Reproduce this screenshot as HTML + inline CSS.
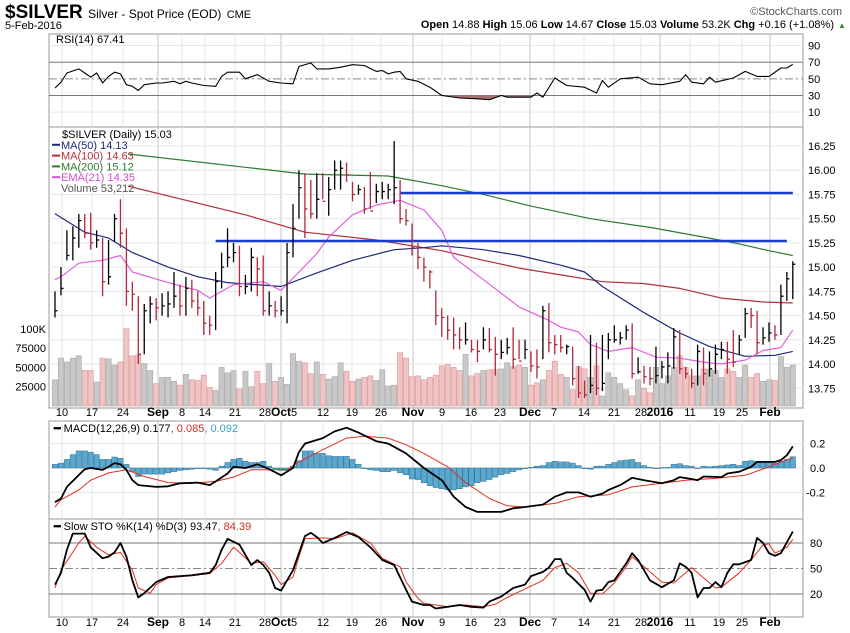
<!DOCTYPE html>
<html><head><meta charset="utf-8"><style>
body{margin:0;background:#fff;}
svg{display:block;font-family:"Liberation Sans",sans-serif;}
.n{font-family:"Liberation Sans Narrow","Liberation Sans",sans-serif;}
</style></head><body>
<svg id="chart" width="850" height="633" viewBox="0 0 850 633" xmlns="http://www.w3.org/2000/svg">
<rect x="0" y="0" width="850" height="633" fill="#fff"/>
<text x="5" y="18" class="n" font-size="19" font-weight="bold">$SILVER <tspan font-size="12" font-weight="normal">Silver - Spot Price (EOD)</tspan> <tspan font-size="11" font-weight="normal">CME</tspan></text>
<text x="5" y="29" class="n" font-size="11">5-Feb-2016</text>
<text x="842" y="15" class="n" font-size="11" fill="#555" text-anchor="end">©StockCharts.com</text>
<text x="834" y="28" class="n" font-size="11" text-anchor="end"><tspan font-weight="bold">Open</tspan> 14.88 <tspan font-weight="bold">High</tspan> 15.06 <tspan font-weight="bold">Low</tspan> 14.67 <tspan font-weight="bold">Close</tspan> 15.03 <tspan font-weight="bold">Volume</tspan> 53.2K <tspan font-weight="bold">Chg</tspan> +0.16 (+1.08%)</text>
<text x="838" y="28" font-size="8" fill="#2a8a2a">▲</text>
<g id="g"></g>
</svg>
<script>
// ---------- data ----------
const highs=[14.75,15.0,15.38,15.42,15.55,15.55,15.56,15.38,15.3,15.28,15.55,15.7,15.4,14.85,14.7,14.62,14.7,14.68,14.73,14.75,14.95,14.82,14.9,14.87,14.75,14.65,14.5,14.95,15.15,15.4,15.25,15.22,14.92,15.2,15.1,15.12,14.75,14.65,14.7,15.25,15.65,16.0,15.97,15.9,15.97,15.97,15.93,16.1,16.1,16.08,15.88,15.85,15.83,15.98,15.86,15.88,15.86,16.3,15.9,15.6,15.45,15.25,15.1,14.97,14.76,14.58,14.5,14.48,14.38,14.43,14.25,14.25,14.38,14.37,14.28,14.25,14.27,14.38,14.25,14.25,14.13,14.15,14.6,14.63,14.3,14.3,14.2,14.18,13.98,13.83,14.3,14.22,14.3,14.32,14.4,14.33,14.4,14.42,14.07,13.98,13.97,14.18,14.03,14.12,14.37,14.35,13.97,13.95,14.2,14.17,14.13,14.2,14.23,14.23,14.35,14.3,14.58,14.58,14.55,14.38,14.43,14.4,14.82,14.95,15.06];
const lows=[14.48,14.71,15.07,15.07,15.2,15.3,15.18,15.2,14.7,14.82,15.26,15.2,14.6,14.55,14.0,14.1,14.42,14.45,14.5,14.48,14.58,14.5,14.5,14.58,14.5,14.3,14.3,14.35,14.78,15.0,15.05,14.7,14.72,14.75,14.7,14.5,14.5,14.48,14.5,14.42,15.1,15.5,15.3,15.5,15.5,15.7,15.53,15.8,15.8,15.88,15.68,15.75,15.55,15.6,15.66,15.7,15.7,15.65,15.45,15.43,15.12,14.98,14.85,14.78,14.4,14.28,14.25,14.15,14.15,14.2,14.12,14.02,14.15,14.12,13.88,14.05,14.1,13.95,14.05,14.05,13.92,13.85,14.05,14.12,14.1,14.12,14.1,13.78,13.65,13.65,13.7,13.68,13.72,14.05,14.22,14.2,14.25,13.85,13.9,13.8,13.78,13.8,13.85,13.8,13.95,13.9,13.85,13.75,13.78,13.78,13.87,13.9,14.05,13.9,13.97,14.1,14.27,14.37,14.1,14.2,14.23,14.25,14.3,14.65,14.67];
const closes=[14.55,14.78,15.12,15.3,15.48,15.35,15.25,15.28,14.85,14.9,15.5,15.35,14.75,14.72,14.1,14.55,14.62,14.58,14.6,14.62,14.7,14.6,14.78,14.65,14.58,14.42,14.4,14.85,15.0,15.1,15.15,14.8,14.8,15.1,14.98,14.55,14.6,14.55,14.55,15.15,15.4,15.82,15.6,15.55,15.7,15.68,15.8,16.0,16.02,15.95,15.75,15.8,15.6,15.58,15.78,15.78,15.8,15.82,15.5,15.48,15.2,15.1,15.0,14.95,14.5,14.48,14.35,14.3,14.25,14.25,14.15,14.13,14.25,14.15,14.1,14.12,14.17,14.05,14.03,14.15,13.98,13.97,14.55,14.22,14.2,14.17,14.18,13.85,13.7,13.68,13.78,13.75,13.8,14.25,14.25,14.27,14.35,13.9,13.92,13.87,13.85,13.88,13.97,13.98,14.28,13.95,13.9,13.8,14.13,13.9,13.95,14.1,14.15,14.05,14.02,14.25,14.52,14.5,14.22,14.27,14.32,14.3,14.7,14.88,15.03];
const volumesK=[34,62,57,62,65,46,46,31,62,61,53,57,100,65,66,55,46,29,37,37,32,27,41,34,33,40,24,20,50,43,46,22,45,25,45,29,55,32,37,28,68,58,56,42,57,41,35,38,56,45,32,35,37,39,33,47,26,27,69,62,38,39,34,37,40,52,54,50,46,67,39,42,46,47,47,48,56,51,53,50,27,30,34,46,58,41,37,21,51,48,37,52,13,43,37,29,21,13,34,23,17,50,29,39,50,65,50,39,39,48,48,46,37,48,45,37,53,37,42,32,34,33,64,50,53];
const ma50Idx=[0,5,9,13,19,24,29,38,44,50,57,62,65,72,78,85,89,92,99,105,110,116,121,124];
const ma50Val=[15.55,15.36,15.3,15.15,15.0,14.9,14.84,14.8,14.94,15.07,15.18,15.2,15.22,15.18,15.12,15.02,14.95,14.8,14.53,14.32,14.18,14.08,14.09,14.13];
const ma100Idx=[0,12,32,42,54,65,72,78,85,92,99,105,112,119,124];
const ma100Val=[15.95,15.84,15.54,15.36,15.28,15.17,15.07,14.99,14.92,14.85,14.83,14.78,14.68,14.64,14.63];
const ma200Idx=[0,12,32,42,56,65,72,80,90,100,110,115,120,124];
const ma200Val=[16.24,16.17,16.03,15.96,15.94,15.84,15.75,15.63,15.5,15.41,15.3,15.24,15.17,15.12];
const emaIdx=[0,1,4,8,11,13,19,24,26,30,35,38,41,44,46,50,54,58,62,65,67,72,78,83,85,88,90,93,97,101,105,109,112,116,119,122,124];
const emaVal=[14.87,14.9,15.04,15.07,15.12,14.95,14.84,14.76,14.68,14.82,14.85,14.76,14.95,15.14,15.31,15.54,15.64,15.69,15.59,15.38,15.1,14.87,14.59,14.45,14.38,14.33,14.2,14.13,14.17,14.07,14.06,14.02,14.0,14.04,14.14,14.17,14.35];
const resistanceLevels=[15.27,15.765];
const resistanceStart=[27,58];
const resistanceEnd=[123,124];
const rsiIdx=[0,1,2,4,5,6,7,8,9,10,11,12,13,14,15,17,18,20,21,22,23,25,27,28,29,31,32,34,36,38,40,41,43,44,46,48,50,52,54,55,56,57,58,59,61,63,65,68,71,73,75,76,78,80,81,82,84,86,89,91,92,93,95,98,100,102,105,106,107,109,110,111,114,116,118,120,122,123,124];
const rsiVal=[39,46,57,62,57,52,57,45,53,58,56,43,41,36,43,45,45,47,44,47,45,42,41,53,58,58,50,55,47,45,44,65,69,62,62,64,67,66,59,60,56,58,59,50,47,40,30,27,26,25,30,28,28,28,33,28,51,42,40,33,48,40,50,52,44,43,47,55,46,44,52,46,51,59,53,53,63,63,67.41];
const macdIdx=[0,1,2,4,5,6,8,9,10,11,12,13,14,17,19,21,24,26,27,29,30,32,34,36,38,40,41,42,45,47,49,51,54,56,59,62,65,67,69,71,75,77,79,82,84,86,88,90,92,93,95,97,99,102,104,105,107,108,109,112,113,115,117,118,121,122,123,124];
const macdVal=[-0.28,-0.25,-0.155,-0.057,-0.01,0,-0.015,0.01,0.04,0.03,-0.015,-0.1,-0.14,-0.155,-0.15,-0.125,-0.12,-0.14,-0.11,-0.045,0.01,0,0.03,-0.01,-0.06,0,0.13,0.2,0.245,0.3,0.33,0.29,0.22,0.2,0.12,0,-0.1,-0.235,-0.32,-0.36,-0.36,-0.33,-0.32,-0.3,-0.235,-0.2,-0.2,-0.235,-0.21,-0.18,-0.14,-0.08,-0.1,-0.125,-0.1,-0.075,-0.09,-0.1,-0.07,-0.075,-0.045,-0.03,0.01,0.05,0.05,0.065,0.105,0.177];
const signalIdx=[0,1,4,6,9,12,15,19,23,27,30,33,37,39,41,45,49,52,56,59,62,66,69,73,76,79,84,88,93,97,102,106,111,116,120,124];
const signalVal=[-0.32,-0.26,-0.18,-0.1,-0.04,-0.015,-0.07,-0.12,-0.125,-0.11,-0.075,-0.015,-0.015,-0.015,0.05,0.15,0.245,0.26,0.245,0.19,0.12,0.01,-0.12,-0.25,-0.31,-0.32,-0.29,-0.235,-0.22,-0.155,-0.125,-0.1,-0.085,-0.06,0.01,0.085];
const histVal=[0.03,0.04,0.07,0.11,0.14,0.14,0.13,0.11,0.07,0.07,0.09,0.08,0.03,-0.03,-0.07,-0.05,-0.05,-0.05,-0.05,-0.04,-0.03,-0.02,-0.015,-0.01,-0.005,0,-0.01,-0.02,0.015,0.045,0.07,0.08,0.055,0.045,0.045,0.055,0.015,-0.005,-0.02,-0.02,0.015,0.06,0.14,0.14,0.12,0.12,0.1,0.095,0.095,0.095,0.07,0.03,0,-0.015,-0.02,-0.03,-0.03,-0.02,-0.04,-0.055,-0.09,-0.095,-0.12,-0.145,-0.16,-0.17,-0.18,-0.18,-0.17,-0.155,-0.145,-0.12,-0.11,-0.095,-0.075,-0.055,-0.045,-0.03,-0.015,-0.005,0.005,0.015,0.02,0.045,0.055,0.05,0.05,0.04,0.02,0,-0.01,0.015,0.015,0.03,0.045,0.06,0.065,0.07,0.045,0.02,0.005,0,0.003,0.005,0.03,0.035,0.02,0.015,0,0.015,0.01,0.015,0.02,0.025,0.03,0.02,0.055,0.06,0.055,0.055,0.045,0.04,0.055,0.07,0.092];
const stoKIdx=[0,1,2,3,5,6,8,9,10,11,12,13,14,15,17,19,21,23,26,27,28,29,31,33,34,35,36,37,38,40,42,43,44,45,47,49,51,53,55,57,59,60,62,63,64,66,67,68,70,72,73,75,77,79,80,82,83,84,85,86,87,89,90,91,92,93,94,96,97,98,100,102,104,105,106,107,108,109,110,111,112,113,114,115,117,118,119,120,121,122,124];
const stoKVal=[31,45,72,91,91,75,62,64,69,80,64,36,16,21,34,40,41,42,45,54,72,85,78,54,60,54,45,27,24,48,88,92,87,80,86,93,87,75,60,54,25,11,7,7,3,5,6,7,5,4,11,17,27,31,41,46,51,61,61,45,39,25,11,24,25,34,36,56,68,60,36,28,36,56,52,45,16,27,27,34,28,45,55,55,60,86,80,68,65,68,93.47];
const stoDIdx=[0,1,4,5,7,9,11,13,14,16,17,19,22,26,28,30,31,33,35,37,38,40,41,42,45,47,50,53,55,58,59,61,62,64,66,69,72,74,76,79,82,84,86,88,90,92,94,96,97,99,102,104,107,109,111,112,115,117,119,120,121,123,124];
const stoDVal=[27,48,80,88,75,66,69,48,27,21,31,39,41,44,56,75,69,56,58,42,31,40,64,85,86,85,92,80,62,52,34,15,9,7,5,7,5,8,16,26,36,51,56,45,21,20,33,52,64,52,34,33,51,39,27,28,45,60,78,79,68,75,84.39];
const dateLabels=["10","17","24","Sep","8","14","21","28","Oct","5","12","19","26","Nov","9","16","23","Dec","7","14","21","28","2016","11","19","25","Feb"];
const dateLabelX=[62,92,123,158,182,205,235,265,281,294,323,352,381,413,442,471,500,530,554,584,614,641,660,690,719,742,770];
const priceTicks=[16.25,16.0,15.75,15.5,15.25,15.0,14.75,14.5,14.25,14.0,13.75];
const volTicks=[100,75,50,25];
const volTickLabels=["100K","75000","50000","25000"];
const rsiTicks=[90,70,50,30,10];
const macdTicks=[0.2,0.0,-0.2];
const macdTickLabels=["0.2","0.0","-0.2"];
const stoTicks=[80,50,20];

// ---------- scales ----------
const L=49,R=803;
const xB=i=>55+i*5.95;
const yP=p=>146+(16.25-p)*96.9;
const yV=v=>406-v*0.772;
const yR=v=>120.5-v*0.833;
const yM=v=>468-v*122;
const yS=v=>611-v*0.85;
const NS="http://www.w3.org/2000/svg";
const G=document.getElementById("g");
function mk(tag,attrs,parent){const e=document.createElementNS(NS,tag);for(const k in attrs)e.setAttribute(k,attrs[k]);(parent||G).appendChild(e);return e;}
function poly(idx,val,sc,color,w){let d="";for(let k=0;k<idx.length;k++){d+=(k?"L":"M")+xB(idx[k]).toFixed(1)+","+sc(val[k]).toFixed(1);}return mk("path",{d:d,fill:"none",stroke:color,"stroke-width":w,"stroke-linejoin":"round"});}
const monthSet=new Set(["Sep","Oct","Nov","Dec","2016","Feb"]);

// panels
const panels=[[34,127,"rsi-panel"],[127,408,"price-panel"],[421,519,"macd-panel"],[519,617,"sto-panel"]];
panels.forEach(p=>{
 const r=mk("rect",{x:L,y:p[0],width:R-L,height:p[1]-p[0],fill:"#fff",stroke:"#999","stroke-width":1});
 
 
 for(let k=0;k<dateLabelX.length;k++){
  if(dateLabels[k]==="5")continue;
  const gl=mk("line",{x1:dateLabelX[k],x2:dateLabelX[k],y1:p[0],y2:p[1],stroke:monthSet.has(dateLabels[k])?"#c4c4c4":"#e6e6e6","stroke-width":1});
  
  
 }
});
// x axis labels
[416,626].forEach(yy=>{
 for(let k=0;k<dateLabels.length;k++){
  const t=mk("text",{x:dateLabelX[k],y:yy,"font-size":monthSet.has(dateLabels[k])?12:11,"font-weight":monthSet.has(dateLabels[k])?"bold":"normal","text-anchor":"middle"});
  t.textContent=dateLabels[k];
  
  
 }
});

// RSI panel
rsiTicks.forEach(v=>{
 const ln=mk("line",{x1:L,x2:R,y1:yR(v),y2:yR(v),stroke:(v===70||v===30)?"#777":(v===50?"#888":"#e6e6e6"),"stroke-width":1,"stroke-dasharray":v===50?"8,3,2,3":"none"});
 
 
 const t=mk("text",{x:808,y:yR(v)+4,"font-size":11});
 t.textContent=String(v);
 
 
});
const cp=mk("clipPath",{id:"below30"});
mk("rect",{x:L,y:yR(30),width:R-L,height:40},cp);
let dA="M"+xB(rsiIdx[0])+","+yR(30);
for(let k=0;k<rsiIdx.length;k++)dA+="L"+xB(rsiIdx[k]).toFixed(1)+","+yR(rsiVal[k]).toFixed(1);
dA+="L"+xB(rsiIdx[rsiIdx.length-1])+","+yR(30)+"Z";
const rf=mk("path",{d:dA,fill:"#a87070","clip-path":"url(#below30)"});


const rl=poly(rsiIdx,rsiVal,yR,"#000",1.1);


const rt=mk("text",{x:56,y:43,"font-size":11});
rt.textContent="RSI(14) 67.41";



// price panel gridlines
priceTicks.forEach(p=>{
 const ln=mk("line",{x1:L,x2:R,y1:yP(p),y2:yP(p),stroke:"#e6e6e6","stroke-width":1});
 
 
 const t=mk("text",{x:808,y:yP(p)+4,"font-size":11});
 t.textContent=p.toFixed(2);
 
 
});
volTicks.forEach((v,k)=>{
 const t=mk("text",{x:46,y:yV(v)+4,"font-size":11,"text-anchor":"end"});
 t.textContent=volTickLabels[k];
 
 
});
// volume
for(let i=0;i<volumesK.length;i++){
 const down=i>0&&closes[i]<closes[i-1];
 const b=mk("rect",{x:xB(i)-2.6,y:yV(volumesK[i]),width:5.2,height:406-yV(volumesK[i]),fill:down?"#f0c4c4":"#c8c8c8",stroke:down?"#d89898":"#a8a8a8","stroke-width":0.6});
 
 
}
// MAs
const l200=poly(ma200Idx,ma200Val,yP,"#2e7a2e",1.2);


const l100=poly(ma100Idx,ma100Val,yP,"#b0303c",1.2);


const l50=poly(ma50Idx,ma50Val,yP,"#1e2a7a",1.2);


const lema=poly(emaIdx,emaVal,yP,"#e060e0",1.2);


// resistance lines
for(let k=0;k<resistanceLevels.length;k++){
 const ln=mk("line",{x1:xB(resistanceStart[k]),x2:xB(resistanceEnd[k]),y1:yP(resistanceLevels[k]),y2:yP(resistanceLevels[k]),stroke:"#1a3dcc","stroke-width":2.5});
 
 
}
// price bars
for(let i=0;i<closes.length;i++){
 const down=i>0&&closes[i]<closes[i-1];
 const c=down?"#b0283c":"#000";
 const x=xB(i);
 const b=mk("path",{d:"M"+x+","+yP(highs[i])+"L"+x+","+yP(lows[i])+"M"+x+","+yP(closes[i])+"L"+(x+2.6)+","+yP(closes[i]),stroke:c,"stroke-width":1.3,fill:"none"});
 
 
}
// legend
const lb=mk("rect",{x:50,y:128,width:78,height:64,fill:"#fff"});


const legTexts=["$SILVER (Daily) 15.03","MA(50) 14.13","MA(100) 14.63","MA(200) 15.12","EMA(21) 14.35","Volume 53,212"];
const legColors=["#000","#1e2a7a","#b0303c","#2e7a2e","#d050d0","#555"];
for(let k=0;k<legTexts.length;k++){
 const yy=138+k*10.8;
 if(k>0&&k<5){const m=mk("line",{x1:52,x2:60,y1:yy-4,y2:yy-4,stroke:legColors[k],"stroke-width":2});
  
  }
 const t=mk("text",{x:k===0?62:61,y:yy,"font-size":11,fill:legColors[k]});
 t.textContent=legTexts[k];
 
 
}

// MACD panel
macdTicks.forEach((v,k)=>{
 const ln=mk("line",{x1:L,x2:R,y1:yM(v),y2:yM(v),stroke:"#e6e6e6","stroke-width":1});
 
 
 const t=mk("text",{x:k===2?806:810,y:yM(v)+4,"font-size":11});
 t.textContent=macdTickLabels[k];
 
 
});
for(let i=0;i<histVal.length;i++){
 const v=histVal[i];
 const y1=Math.min(yM(v),yM(0)),h=Math.max(Math.abs(yM(v)-yM(0)),0.6);
 const b=mk("rect",{x:xB(i)-2.7,y:y1,width:5.4,height:h,fill:"#5aa8d0",stroke:"#2f6f90","stroke-width":0.5});
 
 
}
const sg=poly(signalIdx,signalVal,yM,"#e03020",1);


const mc=poly(macdIdx,macdVal,yM,"#000",1.8);


const ml=mk("text",{x:54,y:432,"font-size":11});
ml.innerHTML='<tspan font-weight="bold">━</tspan> MACD(12,26,9) 0.177<tspan fill="#d03020">, 0.085</tspan><tspan fill="#3aa0c8">, 0.092</tspan>';



// STO panel
stoTicks.forEach(v=>{
 const ln=mk("line",{x1:L,x2:R,y1:yS(v),y2:yS(v),stroke:v===50?"#888":"#777","stroke-width":1,"stroke-dasharray":v===50?"8,3,2,3":"none"});
 
 
 const t=mk("text",{x:810,y:yS(v)+4,"font-size":11});
 t.textContent=String(v);
 
 
});
const sd=poly(stoDIdx,stoDVal,yS,"#e03020",1);


const sk=poly(stoKIdx,stoKVal,yS,"#000",1.8);


const sl=mk("text",{x:54,y:530,"font-size":11});
sl.innerHTML='<tspan font-weight="bold">━</tspan> Slow STO %K(14) %D(3) 93.47<tspan fill="#d03020">, 84.39</tspan>';


</script>
</body></html>
